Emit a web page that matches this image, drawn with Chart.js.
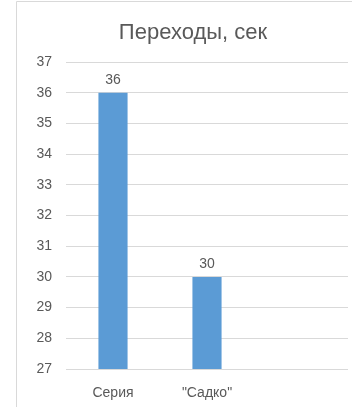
<!DOCTYPE html>
<html>
<head>
<meta charset="utf-8">
<script src="https://cdn.jsdelivr.net/npm/chart.js@4"></script>
<style>
  html, body { margin: 0; padding: 0; background: #fff; }
  #wrap { width: 352px; height: 407px; }
</style>
</head>
<body>
<div id="wrap"><canvas id="myChart" width="352" height="407"></canvas></div>
<script>
const categories = ['Серия', '"Садко"', ''];
const values = [36, 30, null];
const titleText = 'Переходы, сек';
const yMin = 27;
const yMax = 37;

window.onload = function () {
    const ctx = document.getElementById('myChart').getContext('2d');
    const textColor = '#595959';
    const fontFamily = '"Liberation Sans", Arial, sans-serif';

    // frame, title and value labels
    const extras = {
        id: 'extras',
        beforeDraw(chart) {
            const c = chart.ctx;
            c.save();
            c.strokeStyle = '#d9d9d9';
            c.lineWidth = 1;
            c.beginPath();
            c.moveTo(16.5, 407);
            c.lineTo(16.5, 1.5);
            c.lineTo(352, 1.5);
            c.stroke();
            c.restore();
        },
        afterDatasetsDraw(chart) {
            const c = chart.ctx;
            c.save();
            c.fillStyle = textColor;
            c.font = '22px ' + fontFamily;
            c.textAlign = 'center';
            c.textBaseline = 'middle';
            c.fillText(titleText, 193, 33);

            c.font = '14px ' + fontFamily;
            c.textBaseline = 'bottom';
            const meta = chart.getDatasetMeta(0);
            meta.data.forEach(function (bar, i) {
                if (values[i] == null) return;
                c.fillText(String(values[i]), bar.x, bar.y - 6);
            });
            c.restore();
        }
    };

    new Chart(ctx, {
        type: 'bar',
        data: {
            labels: categories,
            datasets: [{
                data: values,
                backgroundColor: '#5b9bd5',
                categoryPercentage: 1,
                barPercentage: 0.31
            }]
        },
        options: {
            responsive: false,
            animation: false,
            layout: { padding: { top: 62, right: 4, left: 0, bottom: 0 } },
            plugins: {
                legend: { display: false },
                title: { display: false },
                tooltip: { enabled: false }
            },
            scales: {
                x: {
                    grid: { display: false, drawTicks: false },
                    border: { display: false },
                    ticks: {
                        color: textColor,
                        font: { family: fontFamily, size: 14 },
                        padding: 16,
                        maxRotation: 0
                    },
                    afterFit(scale) { scale.height = 38; }
                },
                y: {
                    min: yMin,
                    max: yMax,
                    grid: { color: '#d9d9d9', lineWidth: 1, drawTicks: false },
                    border: { display: false },
                    ticks: {
                        stepSize: 1,
                        color: textColor,
                        font: { family: fontFamily, size: 14 },
                        padding: 14
                    },
                    afterFit(scale) { scale.width = 66; }
                }
            }
        },
        plugins: [extras]
    });
};
</script>
</body>
</html>
